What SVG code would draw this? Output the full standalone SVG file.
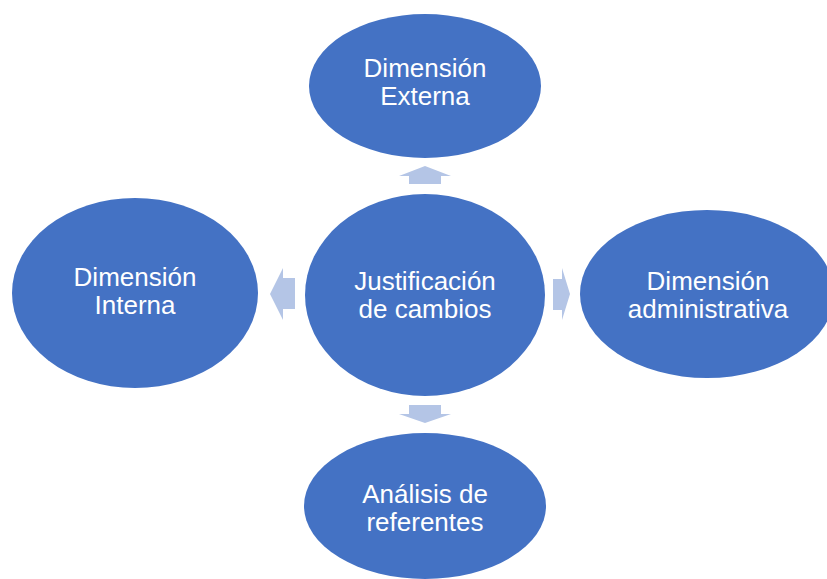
<svg xmlns="http://www.w3.org/2000/svg" width="827" height="579" viewBox="0 0 827 579">
<style>
.n{fill:#4472C4}
.t{fill:#fff;font-family:"Liberation Sans",Arial,sans-serif;font-size:26px;text-anchor:middle}
.a{fill:#B4C5E6}
</style>
<rect width="827" height="579" fill="#fff"/>
<g id="connectors">
<polygon class="a" points="425,166 451,176 441,176 441,184 409,184 409,176 399,176"/>
<polygon class="a" points="425,423 451,414 441,414 441,405 409,405 409,414 399,414"/>
<polygon class="a" points="270,294 283,268 283,278 295,278 295,309 283,309 283,320"/>
<polygon class="a" points="570,294 562,268 562,279 553,279 553,310 562,310 562,320"/>
</g>
<g id="center"><ellipse class="n" cx="425" cy="295" rx="120" ry="101"/><text class="t" x="425" y="290">Justificación</text><text class="t" x="425" y="318">de cambios</text></g>
<g id="top"><ellipse class="n" cx="425" cy="86" rx="116" ry="72"/><text class="t" x="425" y="77">Dimensión</text><text class="t" x="425" y="105">Externa</text></g>
<g id="left"><ellipse class="n" cx="135" cy="293" rx="123" ry="95"/><text class="t" x="135" y="286">Dimensión</text><text class="t" x="135" y="314">Interna</text></g>
<g id="right"><ellipse class="n" cx="707" cy="294" rx="127" ry="84"/><text class="t" x="708" y="290">Dimensión</text><text class="t" x="708" y="318">administrativa</text></g>
<g id="bottom"><ellipse class="n" cx="425" cy="506" rx="121" ry="73"/><text class="t" x="425" y="503">Análisis de</text><text class="t" x="425" y="531">referentes</text></g>
</svg>
